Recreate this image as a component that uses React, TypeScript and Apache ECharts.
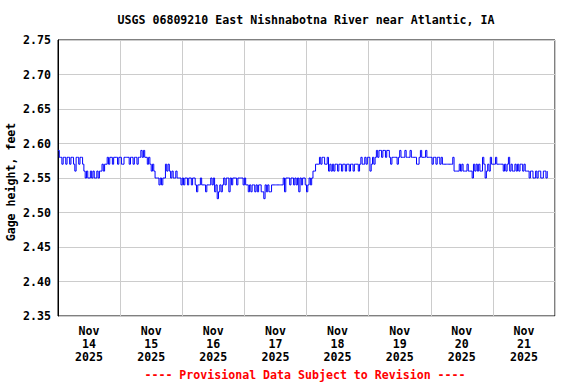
import React, { useEffect, useRef } from "react";
import * as echarts from "echarts";

const TITLE = "USGS 06809210 East Nishnabotna River near Atlantic, IA";
const FOOTER = "---- Provisional Data Subject to Revision ----";
const Y_NAME = "Gage height, feet";
const DAY_LABELS = ["Nov\n14\n2025", "Nov\n15\n2025", "Nov\n16\n2025", "Nov\n17\n2025", "Nov\n18\n2025", "Nov\n19\n2025", "Nov\n20\n2025", "Nov\n21\n2025"];

// half-hourly gage height (feet), starting each day at 00:00
const nov14 = [2.59, 2.58, 2.58, 2.57, 2.58, 2.58, 2.57, 2.58, 2.58, 2.57, 2.58, 2.58, 2.57, 2.56, 2.58, 2.58, 2.57, 2.58, 2.58, 2.57, 2.56, 2.55, 2.56, 2.55, 2.55, 2.56, 2.55, 2.56, 2.55, 2.55, 2.56, 2.55, 2.56, 2.56, 2.57, 2.56, 2.57, 2.57, 2.58, 2.57, 2.58, 2.58, 2.57, 2.58, 2.58, 2.58, 2.57, 2.58];
const nov15 = [2.58, 2.57, 2.57, 2.58, 2.58, 2.58, 2.58, 2.57, 2.58, 2.58, 2.57, 2.58, 2.58, 2.57, 2.58, 2.58, 2.59, 2.58, 2.59, 2.58, 2.58, 2.57, 2.58, 2.57, 2.56, 2.57, 2.56, 2.55, 2.55, 2.55, 2.54, 2.55, 2.54, 2.55, 2.55, 2.57, 2.56, 2.57, 2.56, 2.55, 2.56, 2.55, 2.55, 2.56, 2.55, 2.55, 2.55, 2.54];
const nov16 = [2.55, 2.54, 2.55, 2.55, 2.54, 2.55, 2.55, 2.54, 2.55, 2.55, 2.54, 2.53, 2.54, 2.54, 2.55, 2.54, 2.54, 2.54, 2.53, 2.54, 2.54, 2.54, 2.55, 2.54, 2.55, 2.53, 2.54, 2.52, 2.53, 2.54, 2.53, 2.54, 2.55, 2.54, 2.55, 2.55, 2.53, 2.55, 2.54, 2.55, 2.55, 2.55, 2.54, 2.55, 2.55, 2.55, 2.55, 2.54];
const nov17 = [2.55, 2.54, 2.54, 2.53, 2.54, 2.53, 2.54, 2.54, 2.53, 2.54, 2.53, 2.54, 2.54, 2.53, 2.53, 2.52, 2.54, 2.53, 2.54, 2.53, 2.53, 2.54, 2.54, 2.54, 2.54, 2.54, 2.54, 2.54, 2.54, 2.54, 2.55, 2.53, 2.55, 2.55, 2.55, 2.54, 2.55, 2.55, 2.54, 2.55, 2.54, 2.55, 2.53, 2.55, 2.54, 2.55, 2.55, 2.54];
const nov18 = [2.53, 2.54, 2.55, 2.54, 2.55, 2.56, 2.56, 2.57, 2.57, 2.57, 2.58, 2.57, 2.58, 2.58, 2.57, 2.57, 2.58, 2.56, 2.57, 2.56, 2.57, 2.56, 2.57, 2.57, 2.56, 2.57, 2.57, 2.56, 2.57, 2.57, 2.56, 2.57, 2.57, 2.56, 2.57, 2.57, 2.56, 2.57, 2.57, 2.57, 2.56, 2.57, 2.58, 2.57, 2.57, 2.58, 2.57, 2.58];
const nov19 = [2.58, 2.56, 2.57, 2.58, 2.57, 2.58, 2.59, 2.58, 2.59, 2.59, 2.58, 2.59, 2.59, 2.58, 2.59, 2.59, 2.58, 2.57, 2.58, 2.58, 2.58, 2.58, 2.57, 2.58, 2.59, 2.58, 2.58, 2.58, 2.59, 2.58, 2.58, 2.58, 2.59, 2.58, 2.58, 2.58, 2.58, 2.57, 2.57, 2.58, 2.59, 2.58, 2.58, 2.58, 2.59, 2.58, 2.58, 2.58];
const nov20 = [2.58, 2.57, 2.58, 2.58, 2.57, 2.58, 2.58, 2.57, 2.58, 2.57, 2.57, 2.57, 2.57, 2.57, 2.57, 2.57, 2.57, 2.58, 2.56, 2.56, 2.56, 2.56, 2.57, 2.56, 2.57, 2.56, 2.56, 2.56, 2.57, 2.56, 2.56, 2.56, 2.55, 2.57, 2.56, 2.57, 2.56, 2.57, 2.56, 2.56, 2.58, 2.57, 2.55, 2.56, 2.57, 2.56, 2.58, 2.57];
const nov21 = [2.57, 2.57, 2.58, 2.57, 2.57, 2.57, 2.57, 2.57, 2.56, 2.57, 2.56, 2.57, 2.58, 2.56, 2.57, 2.56, 2.56, 2.57, 2.56, 2.57, 2.56, 2.57, 2.57, 2.56, 2.57, 2.56, 2.56, 2.56, 2.55, 2.56, 2.56, 2.55, 2.55, 2.56, 2.55, 2.56, 2.56, 2.55, 2.55, 2.56, 2.56, 2.55, 2.56];

const DAYS = [nov14, nov15, nov16, nov17, nov18, nov19, nov20, nov21];
const Y_MIN = 2.35;
const Y_MAX = 2.75;
const Y_STEP = 0.05;
const HOURS_TOTAL = 192;

export default function App() {
  const ref = useRef<HTMLDivElement>(null);
  useEffect(() => {
    if (!ref.current) return;
    const chart = echarts.init(ref.current, null, { renderer: "svg" });
    const points: [number, number][] = [];
    DAYS.forEach((day, d) => {
      day.forEach((v, i) => points.push([d * 24 + i * 0.5, v]));
    });
    const mono = "'DejaVu Sans Mono', monospace";
    chart.setOption({
      animation: false,
      backgroundColor: "#ffffff",
      title: [
        {
          text: TITLE,
          left: 306,
          top: 14,
          padding: 0,
          textAlign: "center",
          textStyle: { fontFamily: mono, fontWeight: "bold", fontSize: 11.6, color: "#000" },
        },
        {
          text: FOOTER,
          left: 305,
          top: 369,
          padding: 0,
          textAlign: "center",
          textStyle: { fontFamily: mono, fontWeight: "bold", fontSize: 11.6, color: "#ff0000" },
        },
      ],
      graphic: [
        {
          type: "text",
          x: 11,
          y: 182,
          rotation: Math.PI / 2,
          style: {
            text: Y_NAME,
            fontFamily: mono,
            fontWeight: "bold",
            fontSize: 11.6,
            fill: "#000",
            textAlign: "center",
            textVerticalAlign: "middle",
          },
        },
      ],
      grid: {
        left: 58,
        top: 40,
        width: 497,
        height: 276,
        containLabel: false,
        outerBoundsMode: "none",
        show: true,
        borderColor: "#000",
        borderWidth: 1,
        backgroundColor: "transparent",
      },
      xAxis: [
        {
          type: "value",
          min: 0,
          max: HOURS_TOTAL,
          interval: 24,
          axisLine: { show: false },
          axisTick: { show: false },
          axisLabel: { show: false },
          splitLine: { show: true, lineStyle: { color: "#cccccc", width: 1 } },
        },
        {
          type: "category",
          data: DAY_LABELS,
          position: "bottom",
          boundaryGap: true,
          axisLine: { show: false },
          axisTick: { show: false },
          splitLine: { show: false },
          axisLabel: {
            margin: 8,
            fontFamily: mono,
            fontWeight: "bold",
            fontSize: 11.6,
            color: "#000",
            lineHeight: 13,
            interval: 0,
          },
        },
      ],
      yAxis: {
        type: "value",
        min: Y_MIN,
        max: Y_MAX,
        interval: Y_STEP,
        axisLine: { show: true, lineStyle: { color: "#000", width: 1 } },
        axisTick: { show: false },
        axisLabel: {
          margin: 7,
          fontFamily: mono,
          fontWeight: "bold",
          fontSize: 11.6,
          color: "#000",
          formatter: (v: number) => v.toFixed(2),
        },
        splitLine: { show: true, lineStyle: { color: "#cccccc", width: 1 } },
      },
      series: [
        {
          type: "line",
          xAxisIndex: 0,
          data: points,
          step: "end",
          showSymbol: false,
          symbol: "none",
          lineStyle: { color: "#0000ff", width: 1 },
        },
      ],
    });
    return () => chart.dispose();
  }, []);
  return (
    <div
      ref={ref}
      style={{ position: "fixed", left: 0, top: 0, width: 576, height: 384, background: "#fff" }}
    />
  );
}
